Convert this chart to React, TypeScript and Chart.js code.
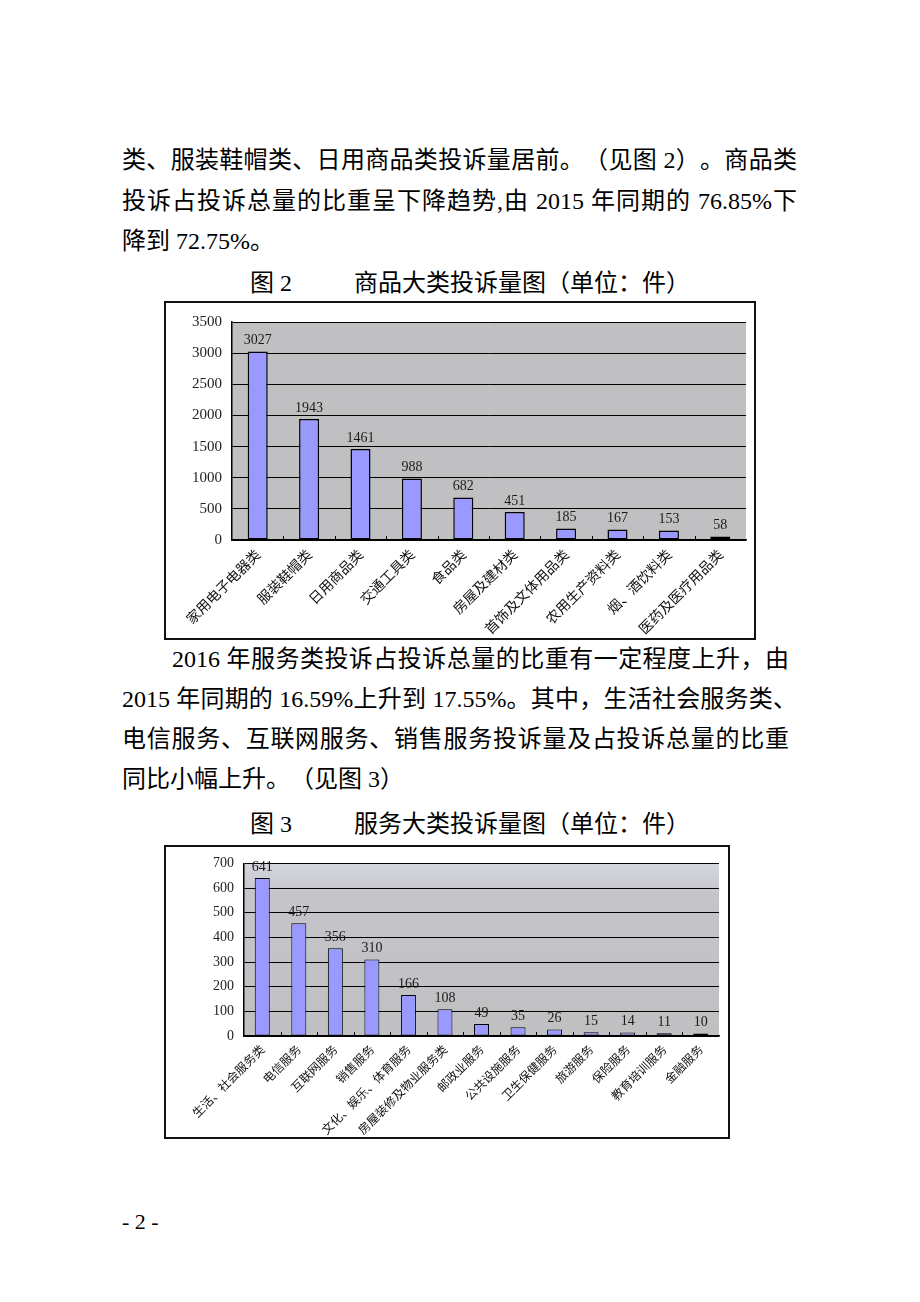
import React, { useEffect, useRef } from "react";
import { Chart, registerables } from "chart.js";

Chart.register(...registerables);

// ---------- data ----------
const goodsCategories = [
  "家用电子电器类",
  "服装鞋帽类",
  "日用商品类",
  "交通工具类",
  "食品类",
  "房屋及建材类",
  "首饰及文体用品类",
  "农用生产资料类",
  "烟、酒饮料类",
  "医药及医疗用品类",
];
const goodsValues = [3027, 1943, 1461, 988, 682, 451, 185, 167, 153, 58];
const goodsAxisMax = 3500;
const goodsAxisStep = 500;

const serviceCategories = [
  "生活、社会服务类",
  "电信服务",
  "互联网服务",
  "销售服务",
  "文化、娱乐、体育服务",
  "房屋装修及物业服务类",
  "邮政业服务",
  "公共设施服务",
  "卫生保健服务",
  "旅游服务",
  "保险服务",
  "教育培训服务",
  "金融服务",
];
const serviceValues = [641, 457, 356, 310, 166, 108, 49, 35, 26, 15, 14, 11, 10];
const serviceAxisMax = 700;
const serviceAxisStep = 100;

// ---------- plugins ----------
const plotBgPlugin = {
  id: "plotBg",
  beforeDraw(chart: any, _args: any, opts: any) {
    const { ctx, chartArea: a } = chart;
    ctx.save();
    if (opts.gradient) {
      const g = ctx.createLinearGradient(0, a.top, 0, a.bottom);
      g.addColorStop(0, "#d6d6de");
      g.addColorStop(0.18, "#c4c4ca");
      g.addColorStop(1, "#c0c0c2");
      ctx.fillStyle = g;
    } else {
      ctx.fillStyle = opts.color || "#c0c0c2";
    }
    ctx.fillRect(a.left, a.top, a.right - a.left, a.bottom - a.top);
    ctx.restore();
  },
};

const valueLabelPlugin = {
  id: "valueLabels",
  afterDatasetsDraw(chart: any, _args: any, opts: any) {
    const { ctx } = chart;
    const meta = chart.getDatasetMeta(0);
    const data = chart.data.datasets[0].data;
    ctx.save();
    ctx.font = `${opts.size || 13}px "Liberation Serif", "DejaVu Serif", serif`;
    ctx.fillStyle = "#1a1a1a";
    ctx.textAlign = "center";
    ctx.textBaseline = "bottom";
    meta.data.forEach((bar: any, i: number) => {
      ctx.fillText(String(data[i]), bar.x, bar.y - 4);
    });
    ctx.restore();
  },
};

const innerTickPlugin = {
  id: "innerTicks",
  afterDatasetsDraw(chart: any) {
    const { ctx, chartArea: a } = chart;
    const xs = chart.scales.x;
    const n = chart.data.labels.length;
    ctx.save();
    ctx.strokeStyle = "#000";
    ctx.lineWidth = 1;
    for (let i = 1; i < n; i++) {
      const x = Math.round((xs.getPixelForValue(i - 1) + xs.getPixelForValue(i)) / 2) + 0.5;
      ctx.beginPath();
      ctx.moveTo(x, a.bottom);
      ctx.lineTo(x, a.bottom - 4);
      ctx.stroke();
    }
    ctx.restore();
  },
};

type ChartProps = {
  labels: string[];
  values: number[];
  max: number;
  step: number;
  width: number;
  height: number;
  plotLeft: number;
  plotRight: number;
  plotTop: number;
  plotBottom: number;
  yFont: number;
  xFont: number;
  valueFont: number;
  barPct: number;
  barBorder: number;
  gradient: boolean;
};

function BarChart(p: ChartProps) {
  const ref = useRef<HTMLCanvasElement | null>(null);
  useEffect(() => {
    if (!ref.current) return;
    const chart = new Chart(ref.current, {
      type: "bar",
      data: {
        labels: p.labels,
        datasets: [
          {
            data: p.values,
            backgroundColor: "#9999ff",
            borderColor: "#000000",
            borderWidth: p.barBorder,
            borderSkipped: false,
            barPercentage: p.barPct,
            categoryPercentage: 1,
          },
        ],
      },
      options: {
        animation: false,
        responsive: false,
        devicePixelRatio: 1,
        layout: {
          padding: {
            left: 0,
            top: p.plotTop,
            right: p.width - p.plotRight,
            bottom: 0,
          },
        },
        plugins: {
          legend: { display: false },
          tooltip: { enabled: false },
          plotBg: { gradient: p.gradient, color: "#c0c0c2" },
          valueLabels: { size: p.valueFont },
        } as any,
        scales: {
          x: {
            grid: { display: false, drawTicks: false },
            border: { display: true, color: "#000", width: 1.5 },
            ticks: {
              autoSkip: false,
              minRotation: 45,
              maxRotation: 45,
              padding: 6,
              color: "#111",
              font: { size: p.xFont, family: '"Noto Sans CJK SC", sans-serif' },
            },
            afterFit: (s: any) => {
              s.height = p.height - p.plotBottom;
            },
          },
          y: {
            min: 0,
            max: p.max,
            grid: { color: "#000", lineWidth: 1, drawTicks: false },
            border: { display: true, color: "#000", width: 1.5 },
            ticks: {
              stepSize: p.step,
              padding: 10,
              color: "#222",
              font: { size: p.yFont, family: '"Liberation Serif", "DejaVu Serif", serif' },
              callback: (v: any) => String(v),
            },
            afterFit: (s: any) => {
              s.width = p.plotLeft;
            },
          },
        },
      },
      plugins: [plotBgPlugin, valueLabelPlugin, innerTickPlugin],
    } as any);
    return () => chart.destroy();
  }, []);
  return (
    <canvas
      ref={ref}
      width={p.width}
      height={p.height}
      style={{ position: "absolute", left: 0, top: 0, width: p.width, height: p.height, display: "block" }}
    />
  );
}

const bodyFont = '"Liberation Serif", "Noto Sans CJK SC", serif';

function Line(props: { top: number; left: number; width?: number; text: string; justify?: boolean }) {
  return (
    <div
      style={{
        position: "absolute",
        top: props.top - 13,
        left: props.left,
        width: props.width,
        height: 26,
        lineHeight: "26px",
        fontSize: 24,
        fontFamily: bodyFont,
        whiteSpace: "nowrap",
        textAlign: props.justify ? "justify" : "left",
        textAlignLast: props.justify ? "justify" : "left",
        textSpacingTrim: "space-all",
        color: "#000",
      } as any}
    >
      {props.text}
    </div>
  );
}

function ChartBox(props: { left: number; top: number; width: number; height: number; children: any }) {
  return (
    <div
      style={{
        position: "absolute",
        left: props.left,
        top: props.top,
        width: props.width,
        height: props.height,
      }}
    >
      {props.children}
      <div
        style={{
          position: "absolute",
          left: 0,
          top: 0,
          width: props.width,
          height: props.height,
          boxSizing: "border-box",
          border: "2px solid #111",
          pointerEvents: "none",
        }}
      />
    </div>
  );
}

export default function App() {
  return (
    <div style={{ position: "relative", width: 920, height: 1302, background: "#fff", overflow: "hidden" }}>
      <style>{"body{margin:0;background:#fff}"}</style>
      <Line top={160} left={122} width={675} justify text="类、服装鞋帽类、日用商品类投诉量居前。（见图 2）。商品类" />
      <Line top={201} left={122} width={675} justify text="投诉占投诉总量的比重呈下降趋势,由 2015 年同期的 76.85%下" />
      <Line top={241} left={122} text="降到 72.75%。" />
      <Line top={283} left={250} text="图 2" />
      <Line top={283} left={354} text="商品大类投诉量图（单位：件）" />

      <ChartBox left={164} top={301} width={592} height={339}>
        <BarChart
          labels={goodsCategories}
          values={goodsValues}
          max={goodsAxisMax}
          step={goodsAxisStep}
          width={592}
          height={339}
          plotLeft={68}
          plotRight={582}
          plotTop={21}
          plotBottom={239}
          yFont={15}
          xFont={14}
          valueFont={14}
          barPct={0.39}
          barBorder={1.5}
          gradient={false}
        />
      </ChartBox>

      <Line top={659} left={172} width={617} justify text="2016 年服务类投诉占投诉总量的比重有一定程度上升，由" />
      <Line top={699} left={122} width={675} justify text="2015 年同期的 16.59%上升到 17.55%。其中，生活社会服务类、" />
      <Line top={739} left={122} width={667} justify text="电信服务、互联网服务、销售服务投诉量及占投诉总量的比重" />
      <Line top={779} left={122} text="同比小幅上升。（见图 3）" />
      <Line top={824} left={250} text="图 3" />
      <Line top={824} left={354} text="服务大类投诉量图（单位：件）" />

      <ChartBox left={164} top={845} width={566} height={294}>
        <BarChart
          labels={serviceCategories}
          values={serviceValues}
          max={serviceAxisMax}
          step={serviceAxisStep}
          width={566}
          height={294}
          plotLeft={80}
          plotRight={555}
          plotTop={18}
          plotBottom={191}
          yFont={14}
          xFont={12}
          valueFont={14}
          barPct={0.41}
          barBorder={1}
          gradient={true}
        />
      </ChartBox>

      <div
        style={{
          position: "absolute",
          left: 122,
          top: 1209,
          fontSize: 22,
          lineHeight: "26px",
          fontFamily: '"Liberation Serif", serif',
          color: "#000",
          whiteSpace: "pre",
        }}
      >
        {"- 2 -"}
      </div>
    </div>
  );
}
